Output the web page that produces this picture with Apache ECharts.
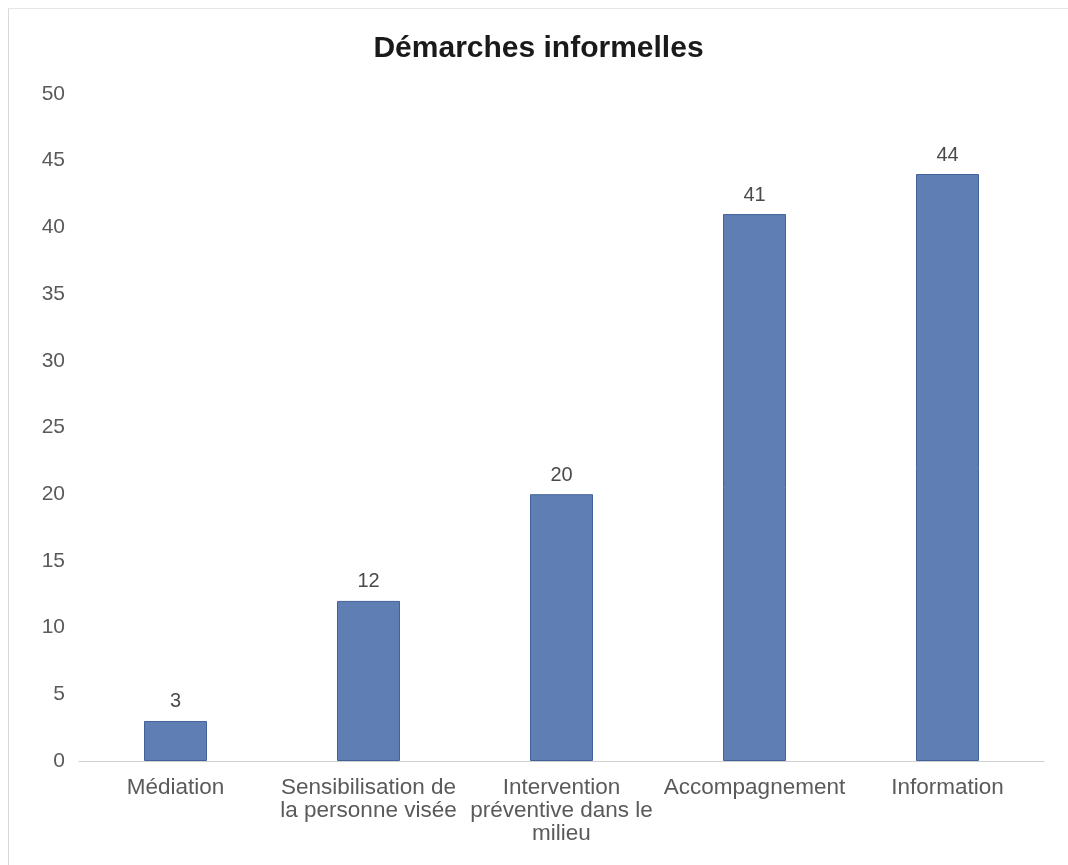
<!DOCTYPE html>
<html>
<head>
<meta charset="utf-8">
<script src="https://cdn.jsdelivr.net/npm/echarts@6/dist/echarts.min.js"></script>
<style>
  html, body { margin: 0; padding: 0; background: #ffffff; }
  #chart {
    position: absolute;
    left: 8px; top: 8px;
    width: 1060px; height: 857px;
    border-left: 1px solid #d9d9d9;
    border-top: 1px solid #e6e6e6;
    box-sizing: border-box;
  }
</style>
</head>
<body>
<div id="chart"></div>
<script>
// catégories et valeurs
const categories = [
  'Médiation',
  'Sensibilisation de\nla personne visée',
  'Intervention\npréventive dans le\nmilieu',
  'Accompagnement',
  'Information'
];
const values = [3, 12, 20, 41, 44];
const yTicks = [0, 5, 10, 15, 20, 25, 30, 35, 40, 45, 50];

const myChart = echarts.init(document.getElementById('chart'));

const option = {
  animation: false,
  title: {
    text: 'Démarches informelles',
    left: 'center',
    top: 20,
    textStyle: {
      color: '#1a1a1a',
      fontSize: 30,
      fontWeight: 'bold',
      fontFamily: 'Liberation Sans, Arial, sans-serif'
    }
  },
  grid: {
    left: 70,
    right: 24,
    top: 85,
    bottom: 104
  },
  xAxis: {
    type: 'category',
    data: categories,
    axisLine: { lineStyle: { color: '#d0d0d0', width: 1 } },
    axisTick: { show: false },
    axisLabel: {
      color: '#5a5a5a',
      fontSize: 22.5,
      lineHeight: 23,
      margin: 15,
      interval: 0,
      fontFamily: 'Liberation Sans, Arial, sans-serif'
    }
  },
  yAxis: {
    type: 'value',
    min: yTicks[0],
    max: yTicks[yTicks.length - 1],
    interval: 5,
    axisLine: { show: false },
    axisTick: { show: false },
    splitLine: { show: false },
    axisLabel: {
      color: '#5a5a5a',
      fontSize: 21,
      margin: 14,
      fontFamily: 'Liberation Sans, Arial, sans-serif'
    }
  },
  series: [
    {
      type: 'bar',
      data: values,
      barWidth: 63,
      itemStyle: {
        color: '#5f7fb4',
        borderColor: '#44629a',
        borderWidth: 1
      },
      label: {
        show: true,
        position: 'top',
        distance: 9,
        color: '#4a4a4a',
        fontSize: 20,
        fontFamily: 'Liberation Sans, Arial, sans-serif'
      }
    }
  ]
};

myChart.setOption(option);
window.addEventListener('resize', () => myChart.resize());
</script>
</body>
</html>
